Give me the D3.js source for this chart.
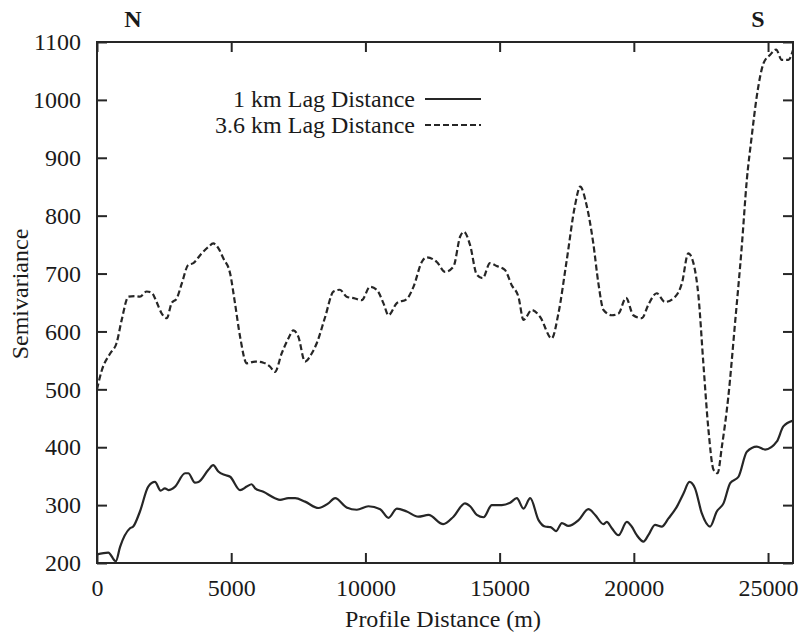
<!DOCTYPE html>
<html>
<head>
<meta charset="utf-8">
<script src="https://cdn.jsdelivr.net/npm/d3@7"></script>
<style>
  body { margin: 0; background: #fff; }
  text { font-family: "Liberation Serif", "DejaVu Serif", serif; fill: #1a1a1a; }
</style>
</head>
<body>
<div id="chart"></div>
<script>
// profile distance (m) and semivariance
const lag1Dist = [0, 420, 700, 860, 1230, 1350, 1600, 1910, 2160, 2370, 2530, 2660, 2910, 3280, 3400, 3650, 3780, 4150, 4330, 4520, 4770, 4960, 5330, 5580, 5760, 5890, 6200, 6630, 6820, 7130, 7380, 7750, 8250, 8620, 8870, 9300, 9680, 10110, 10550, 10860, 11170, 11540, 11970, 12350, 12900, 13280, 13710, 13900, 14150, 14400, 14710, 15080, 15390, 15640, 15890, 16140, 16450, 16690, 16900, 17100, 17320, 17560, 17940, 18310, 18560, 18870, 18990, 19180, 19430, 19740, 19920, 20110, 20360, 20540, 20790, 21040, 21290, 21600, 21850, 22070, 22280, 22530, 22840, 23090, 23340, 23590, 23900, 24210, 24580, 24890, 25330, 25570, 25930];
const lag1Vals = [215, 218, 203, 228, 260, 263, 289, 332, 340, 325, 329, 326, 332, 355, 355, 339, 340, 361, 369, 358, 352, 349, 326, 332, 336, 329, 323, 312, 309, 312, 312, 306, 295, 303, 312, 296, 292, 298, 293, 278, 294, 289, 280, 283, 267, 280, 303, 298, 283, 279, 300, 300, 304, 312, 294, 312, 274, 263, 262, 255, 269, 264, 274, 293, 283, 267, 271, 260, 248, 271, 263, 248, 237, 248, 266, 263, 277, 297, 320, 340, 329, 286, 263, 289, 303, 338, 349, 392, 401, 396, 410, 436, 446];

const lag36Dist = [0, 180, 490, 730, 920, 1170, 1420, 1600, 1850, 2040, 2220, 2410, 2600, 2780, 2970, 3160, 3400, 3590, 3900, 4150, 4330, 4520, 4710, 4960, 5140, 5330, 5580, 5890, 6200, 6450, 6630, 6880, 7130, 7320, 7500, 7750, 8000, 8190, 8500, 8810, 9050, 9300, 9610, 9860, 10170, 10420, 10670, 10860, 11170, 11540, 11790, 12100, 12280, 12660, 12970, 13280, 13530, 13670, 13900, 14150, 14370, 14640, 14890, 15200, 15450, 15700, 15890, 16200, 16510, 16940, 17190, 17500, 17810, 18000, 18250, 18490, 18680, 18870, 19180, 19430, 19710, 19980, 20300, 20540, 20850, 21160, 21540, 21790, 22030, 22220, 22410, 22590, 22780, 22970, 23120, 23280, 23520, 23770, 24020, 24210, 24390, 24580, 24830, 25080, 25300, 25510, 25760, 25930];
const lag36Vals = [500, 533, 562, 580, 620, 660, 661, 660, 669, 667, 651, 631, 623, 649, 657, 683, 715, 718, 735, 746, 752, 744, 726, 700, 649, 591, 545, 548, 546, 539, 530, 562, 588, 602, 591, 548, 562, 580, 625, 669, 672, 660, 657, 654, 677, 672, 649, 628, 649, 656, 677, 720, 728, 720, 703, 712, 764, 772, 749, 698, 692, 718, 713, 706, 680, 660, 620, 637, 625, 588, 631, 723, 818, 850, 816, 752, 683, 637, 628, 631, 658, 628, 623, 646, 666, 651, 660, 683, 735, 718, 660, 545, 430, 361, 355, 401, 487, 614, 746, 862, 936, 1006, 1063, 1078, 1087, 1069, 1069, 1086];

const seriesNames = ["1 km Lag Distance", "3.6 km Lag Distance"];
const xTicks = [0, 5000, 10000, 15000, 20000, 25000];
const yTicks = [200, 300, 400, 500, 600, 700, 800, 900, 1000, 1100];

const width = 800;
const height = 632;
const margin = { top: 42, right: 7, bottom: 69, left: 97 };
const innerW = width - margin.left - margin.right;
const innerH = height - margin.top - margin.bottom;
const ink = "#262626";

const svg = d3.select("#chart")
  .append("svg")
  .attr("width", width)
  .attr("height", height);

const g = svg.append("g")
  .attr("transform", `translate(${margin.left},${margin.top})`);

const x = d3.scaleLinear().domain([0, 25930]).range([0, innerW]);
const y = d3.scaleLinear().domain([200, 1100]).range([innerH, 0]);

const lag1 = lag1Dist.map((d, i) => ({ x: d, y: lag1Vals[i] }));
const lag36 = lag36Dist.map((d, i) => ({ x: d, y: lag36Vals[i] }));

const line = d3.line()
  .x(d => x(d.x))
  .y(d => y(d.y))
  .curve(d3.curveMonotoneX);

g.append("path")
  .datum(lag36)
  .attr("d", line)
  .attr("fill", "none")
  .attr("stroke", ink)
  .attr("stroke-width", 2.2)
  .attr("stroke-dasharray", "6,3");

g.append("path")
  .datum(lag1)
  .attr("d", line)
  .attr("fill", "none")
  .attr("stroke", ink)
  .attr("stroke-width", 2.2);

// axes: ticks pointing inward, mirrored on top and right
const tickLen = 10;
const fontSize = 24;

g.append("g")
  .attr("transform", `translate(0,${innerH})`)
  .call(d3.axisBottom(x).tickValues(xTicks).tickSize(-tickLen).tickPadding(16).tickFormat(d3.format("d")))
  .call(a => a.select(".domain").remove());

g.append("g")
  .call(d3.axisTop(x).tickValues(xTicks).tickSize(-tickLen).tickFormat(""))
  .call(a => a.select(".domain").remove());

g.append("g")
  .call(d3.axisLeft(y).tickValues(yTicks).tickSize(-tickLen).tickPadding(16).tickFormat(d3.format("d")))
  .call(a => a.select(".domain").remove());

g.append("g")
  .attr("transform", `translate(${innerW},0)`)
  .call(d3.axisRight(y).tickValues(yTicks).tickSize(-tickLen).tickFormat(""))
  .call(a => a.select(".domain").remove());

g.selectAll(".tick line").attr("stroke", ink).attr("stroke-width", 2);
g.selectAll(".tick text")
  .attr("font-family", "Liberation Serif, serif")
  .attr("font-size", fontSize)
  .attr("fill", "#1a1a1a");

g.append("rect")
  .attr("width", innerW)
  .attr("height", innerH)
  .attr("fill", "none")
  .attr("stroke", ink)
  .attr("stroke-width", 2);

// legend
const legend = g.append("g");
seriesNames.forEach((name, i) => {
  const ly = 57 + i * 26;
  legend.append("text")
    .attr("x", 318)
    .attr("y", ly)
    .attr("dy", "0.35em")
    .attr("text-anchor", "end")
    .attr("font-size", fontSize)
    .text(name);
  legend.append("line")
    .attr("x1", 328)
    .attr("x2", 384)
    .attr("y1", ly)
    .attr("y2", ly)
    .attr("stroke", ink)
    .attr("stroke-width", 2.2)
    .attr("stroke-dasharray", i === 1 ? "6,3" : null);
});

// labels
svg.append("text")
  .attr("x", margin.left + innerW / 2 - 2)
  .attr("y", 627)
  .attr("text-anchor", "middle")
  .attr("font-size", fontSize)
  .text("Profile Distance (m)");

svg.append("text")
  .attr("transform", "translate(28,294) rotate(-90)")
  .attr("text-anchor", "middle")
  .attr("font-size", fontSize)
  .text("Semivariance");

svg.append("text")
  .attr("x", 133)
  .attr("y", 27)
  .attr("text-anchor", "middle")
  .attr("font-size", fontSize)
  .attr("font-weight", "bold")
  .text("N");

svg.append("text")
  .attr("x", 758)
  .attr("y", 27)
  .attr("text-anchor", "middle")
  .attr("font-size", fontSize)
  .attr("font-weight", "bold")
  .text("S");
</script>
</body>
</html>
